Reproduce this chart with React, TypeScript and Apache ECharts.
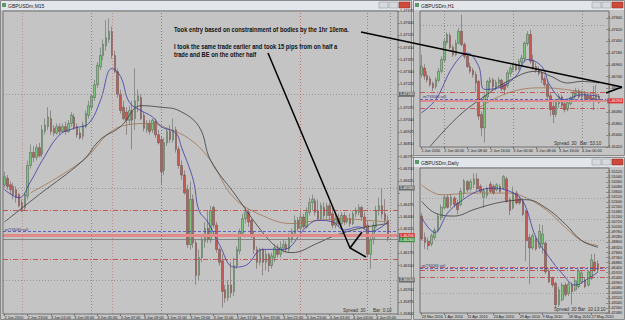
import React, { useEffect, useRef } from 'react';
import * as echarts from 'echarts';

// ---------- M15 (main window) ----------
const m15Open = [1.4660,1.4664,1.4660,1.4659,1.4657,1.4654,1.4649,1.4646,1.4653,1.4672,1.4680,1.4677,1.4683,1.4679,1.4693,1.4696,1.4701,1.4695,1.4692,1.4696,1.4693,1.4696,1.4693,1.4698,1.4702,1.4696,1.4692,1.4690,1.4696,1.4703,1.4708,1.4714,1.4722,1.4733,1.4740,1.4746,1.4750,1.4755,1.4740,1.4730,1.4716,1.4708,1.4705,1.4700,1.4706,1.4701,1.4712,1.4714,1.4703,1.4694,1.4698,1.4694,1.4699,1.4691,1.4688,1.4669,1.4686,1.4693,1.4688,1.4694,1.4682,1.4672,1.4666,1.4657,1.4623,1.4651,1.4624,1.4604,1.4615,1.4625,1.4633,1.4626,1.4646,1.4635,1.4620,1.4613,1.4595,1.4590,1.4598,1.4594,1.4610,1.4619,1.4630,1.4639,1.4643,1.4638,1.4628,1.4620,1.4612,1.4620,1.4612,1.4617,1.4610,1.4615,1.4620,1.4617,1.4621,1.4623,1.4620,1.4626,1.4630,1.4638,1.4633,1.4640,1.4634,1.4643,1.4649,1.4650,1.4644,1.4639,1.4646,1.4641,1.4647,1.4642,1.4635,1.4639,1.4636,1.4641,1.4637,1.4639,1.4636,1.4642,1.4643,1.4646,1.4640,1.4635,1.4617,1.4626,1.4634,1.4644,1.4647,1.4642,1.4638];
const m15Close = [1.4665,1.4659,1.4657,1.4654,1.4652,1.4647,1.4644,1.4654,1.4672,1.4680,1.4677,1.4683,1.4678,1.4694,1.4697,1.4702,1.4693,1.4692,1.4696,1.4693,1.4696,1.4693,1.4698,1.4703,1.4695,1.4691,1.4689,1.4697,1.4704,1.4709,1.4715,1.4722,1.4734,1.4740,1.4747,1.4751,1.4755,1.4740,1.4730,1.4716,1.4706,1.4701,1.4700,1.4706,1.4700,1.4712,1.4715,1.4701,1.4695,1.4698,1.4693,1.4700,1.4691,1.4686,1.4668,1.4686,1.4693,1.4688,1.4694,1.4682,1.4672,1.4666,1.4655,1.4623,1.4651,1.4624,1.4604,1.4615,1.4626,1.4633,1.4626,1.4644,1.4635,1.4620,1.4612,1.4594,1.4590,1.4598,1.4593,1.4610,1.4620,1.4631,1.4639,1.4643,1.4637,1.4628,1.4620,1.4612,1.4620,1.4612,1.4617,1.4610,1.4616,1.4621,1.4617,1.4621,1.4623,1.4620,1.4627,1.4631,1.4638,1.4633,1.4640,1.4634,1.4643,1.4649,1.4651,1.4643,1.4639,1.4647,1.4641,1.4647,1.4641,1.4635,1.4639,1.4636,1.4641,1.4637,1.4639,1.4636,1.4642,1.4644,1.4646,1.4640,1.4634,1.4617,1.4626,1.4635,1.4644,1.4647,1.4642,1.4638,1.4627];
const m15High = [1.4668,1.4666,1.4662,1.4661,1.4659,1.4655,1.4651,1.4655,1.4675,1.4685,1.4684,1.4685,1.4686,1.4697,1.4701,1.4708,1.4706,1.4697,1.4698,1.4698,1.4698,1.4699,1.4700,1.4705,1.4704,1.4698,1.4695,1.4699,1.4706,1.4712,1.4716,1.4725,1.4736,1.4745,1.4750,1.4762,1.4763,1.4758,1.4743,1.4732,1.4719,1.4712,1.4708,1.4709,1.4712,1.4732,1.4719,1.4716,1.4705,1.4700,1.4700,1.4701,1.4701,1.4694,1.4690,1.4689,1.4695,1.4697,1.4701,1.4696,1.4684,1.4675,1.4669,1.4660,1.4662,1.4654,1.4626,1.4620,1.4629,1.4637,1.4644,1.4647,1.4647,1.4637,1.4621,1.4617,1.4598,1.4601,1.4612,1.4615,1.4622,1.4633,1.4642,1.4646,1.4645,1.4639,1.4631,1.4622,1.4621,1.4621,1.4620,1.4618,1.4618,1.4623,1.4623,1.4625,1.4626,1.4625,1.4630,1.4633,1.4641,1.4640,1.4643,1.4642,1.4646,1.4652,1.4654,1.4652,1.4651,1.4649,1.4649,1.4649,1.4649,1.4646,1.4643,1.4642,1.4643,1.4643,1.4641,1.4642,1.4644,1.4646,1.4648,1.4647,1.4643,1.4638,1.4628,1.4637,1.4647,1.4652,1.4658,1.4651,1.4641];
const m15Low = [1.4658,1.4657,1.4654,1.4651,1.4649,1.4646,1.4643,1.4644,1.4651,1.4670,1.4674,1.4675,1.4677,1.4677,1.4691,1.4694,1.4691,1.4690,1.4691,1.4691,1.4692,1.4691,1.4692,1.4696,1.4694,1.4689,1.4688,1.4688,1.4695,1.4701,1.4706,1.4712,1.4720,1.4731,1.4737,1.4743,1.4748,1.4738,1.4729,1.4714,1.4704,1.4700,1.4691,1.4697,1.4682,1.4694,1.4705,1.4700,1.4693,1.4692,1.4691,1.4692,1.4689,1.4685,1.4660,1.4666,1.4684,1.4686,1.4686,1.4680,1.4670,1.4663,1.4654,1.4621,1.4620,1.4621,1.4598,1.4601,1.4612,1.4621,1.4624,1.4624,1.4633,1.4618,1.4610,1.4584,1.4587,1.4588,1.4590,1.4591,1.4608,1.4617,1.4628,1.4636,1.4634,1.4627,1.4617,1.4608,1.4610,1.4604,1.4607,1.4606,1.4608,1.4612,1.4615,1.4615,1.4618,1.4618,1.4618,1.4624,1.4628,1.4631,1.4631,1.4633,1.4633,1.4641,1.4644,1.4641,1.4638,1.4638,1.4639,1.4639,1.4638,1.4633,1.4633,1.4634,1.4634,1.4635,1.4636,1.4634,1.4635,1.4640,1.4641,1.4638,1.4633,1.4615,1.4608,1.4623,1.4633,1.4641,1.4639,1.4636,1.4625];
const m15Ticks = ['2 Jun 2010','2 Jun 23:00','3 Jun 01:00','3 Jun 03:00','3 Jun 05:00','3 Jun 07:00','3 Jun 09:00','3 Jun 11:00','3 Jun 13:00','3 Jun 15:00','3 Jun 17:00','3 Jun 19:00','3 Jun 21:00','3 Jun 23:00','4 Jun 01:00','4 Jun 03:00','4 Jun 05:00'];
const m15MaFast = [[0,1.4657],[5,1.4652],[9,1.4662],[13,1.4675],[19,1.4691],[24,1.4695],[29,1.4698],[33,1.4712],[37,1.4732],[40,1.4727],[43,1.4711],[47,1.4706],[51,1.4702],[54,1.4696],[59,1.4692],[61,1.4683],[65,1.4663],[67,1.4644],[70,1.4637],[74,1.4623],[79,1.4609],[83,1.4610],[89,1.4620],[96,1.4620],[104,1.4634],[108,1.4638],[113,1.4637],[117,1.4632],[122,1.4634],[126,1.4631],[132,1.4637]];
const m15MaSlow = [[0,1.4637],[12,1.4654],[27,1.4675],[33,1.4688],[40,1.4696],[47,1.4709],[54,1.4708],[60,1.4706],[67,1.4696],[71,1.4675],[79,1.4655],[90,1.4628],[95,1.4620],[99,1.4618],[108,1.4624],[113,1.4628],[120,1.4632],[125,1.4634],[132,1.4636]];
const m15MaMid = [[9,1.4655],[27,1.4675],[36,1.4692],[42,1.4697],[50,1.4698],[56,1.4695],[64,1.4688],[71,1.4675],[79,1.4652],[90,1.4640],[99,1.4636],[108,1.4638],[116,1.4639],[125,1.4638],[132,1.4637]];

// ---------- H1 ----------
const h1Open = [1.4678,1.4690,1.4676,1.4670,1.4661,1.4655,1.4667,1.4684,1.4705,1.4738,1.4751,1.4729,1.4715,1.4737,1.4759,1.4734,1.4712,1.4693,1.4686,1.4678,1.4665,1.4603,1.4578,1.4636,1.4663,1.4668,1.4655,1.4662,1.4667,1.4659,1.4657,1.4680,1.4687,1.4695,1.4688,1.4701,1.4707,1.4736,1.4753,1.4705,1.4693,1.4687,1.4681,1.4670,1.4659,1.4638,1.4618,1.4603,1.4623,1.4636,1.4623,1.4613,1.4623,1.4632,1.4640,1.4647,1.4636,1.4642,1.4638,1.4637,1.4634,1.4631,1.4637];
const h1Close = [1.4693,1.4675,1.4668,1.4659,1.4653,1.4668,1.4684,1.4706,1.4740,1.4753,1.4728,1.4715,1.4737,1.4759,1.4734,1.4712,1.4693,1.4684,1.4678,1.4662,1.4600,1.4578,1.4637,1.4665,1.4668,1.4655,1.4663,1.4668,1.4651,1.4650,1.4681,1.4690,1.4695,1.4687,1.4703,1.4709,1.4737,1.4753,1.4703,1.4690,1.4686,1.4680,1.4668,1.4659,1.4637,1.4612,1.4603,1.4628,1.4637,1.4620,1.4612,1.4625,1.4634,1.4643,1.4648,1.4636,1.4643,1.4632,1.4632,1.4631,1.4630,1.4638,1.4626];
const h1High = [1.4715,1.4697,1.4684,1.4675,1.4665,1.4673,1.4690,1.4712,1.4745,1.4757,1.4756,1.4734,1.4743,1.4765,1.4790,1.4738,1.4715,1.4700,1.4690,1.4684,1.4668,1.4609,1.4643,1.4668,1.4673,1.4672,1.4668,1.4673,1.4670,1.4663,1.4686,1.4695,1.4700,1.4700,1.4707,1.4715,1.4740,1.4759,1.4762,1.4715,1.4700,1.4693,1.4686,1.4676,1.4665,1.4643,1.4631,1.4632,1.4642,1.4640,1.4628,1.4631,1.4637,1.4648,1.4653,1.4651,1.4648,1.4647,1.4643,1.4642,1.4657,1.4659,1.4640];
const h1Low = [1.4672,1.4668,1.4663,1.4655,1.4647,1.4651,1.4663,1.4680,1.4701,1.4734,1.4725,1.4711,1.4712,1.4734,1.4731,1.4707,1.4690,1.4680,1.4672,1.4645,1.4593,1.4562,1.4550,1.4631,1.4647,1.4650,1.4648,1.4655,1.4647,1.4640,1.4653,1.4673,1.4682,1.4684,1.4686,1.4695,1.4701,1.4731,1.4698,1.4686,1.4681,1.4676,1.4662,1.4655,1.4631,1.4600,1.4587,1.4598,1.4615,1.4615,1.4607,1.4609,1.4620,1.4628,1.4636,1.4632,1.4631,1.4628,1.4630,1.4627,1.4611,1.4628,1.4623];
const h1Ticks = ['1 Jun 2010','2 Jun 00:00','2 Jun 08:00','2 Jun 16:00','3 Jun 00:00','3 Jun 08:00','3 Jun 16:00','4 Jun 00:00'];
const h1MaFast = [[0,1.4606],[5,1.4631],[11,1.4693],[16,1.4718],[20,1.4693],[22,1.4650],[27,1.4653],[33,1.4675],[37,1.4706],[42,1.4693],[45,1.4656],[50,1.4631],[56,1.4640],[62,1.4637]];
const h1MaSlow = [[3,1.4543],[13,1.4600],[22,1.4637],[30,1.4665],[40,1.4684],[45,1.4675],[51,1.4662],[56,1.4665],[62,1.4662]];
const h1MaMid = [[19,1.4612],[30,1.4643],[42,1.4653],[50,1.4650],[62,1.4640]];

// ---------- Daily ----------
const d1Open = [1.5132,1.4928,1.4891,1.4866,1.4928,1.4991,1.5116,1.5210,1.5310,1.5241,1.5304,1.5257,1.5241,1.5351,1.5460,1.5392,1.5435,1.5486,1.5414,1.5310,1.5329,1.5435,1.5414,1.5382,1.5414,1.5398,1.5486,1.5288,1.5210,1.5351,1.5298,1.5273,1.5179,1.4928,1.4828,1.4913,1.4835,1.4866,1.4872,1.4609,1.4537,1.4490,1.4287,1.4334,1.4475,1.4396,1.4475,1.4428,1.4459,1.4506,1.4521,1.4475,1.4537,1.4694,1.4678];
const d1Close = [1.4913,1.4881,1.4850,1.4944,1.4997,1.5132,1.5216,1.5310,1.5216,1.5310,1.5241,1.5194,1.5367,1.5467,1.5382,1.5460,1.5486,1.5392,1.5367,1.5373,1.5398,1.5367,1.5351,1.5429,1.5367,1.5507,1.5273,1.5185,1.5360,1.5257,1.5257,1.5148,1.4897,1.4828,1.4944,1.4819,1.4985,1.4960,1.4600,1.4506,1.4475,1.4287,1.4428,1.4475,1.4381,1.4484,1.4412,1.4515,1.4609,1.4590,1.4459,1.4600,1.4716,1.4615,1.4622];
const d1High = [1.5163,1.4975,1.4928,1.4966,1.5022,1.5154,1.5241,1.5335,1.5335,1.5342,1.5320,1.5288,1.5398,1.5486,1.5476,1.5486,1.5539,1.5539,1.5435,1.5398,1.5414,1.5460,1.5435,1.5445,1.5435,1.5523,1.5507,1.5310,1.5414,1.5373,1.5320,1.5288,1.5194,1.4960,1.4966,1.4935,1.5054,1.5047,1.4891,1.4631,1.4553,1.4506,1.4459,1.4496,1.4496,1.4506,1.4496,1.4537,1.4631,1.4615,1.4547,1.4615,1.4772,1.4772,1.4709];
const d1Low = [1.4897,1.4819,1.4809,1.4841,1.4903,1.4975,1.5091,1.5194,1.5204,1.5210,1.5216,1.5148,1.5226,1.5304,1.5360,1.5367,1.5398,1.5373,1.5351,1.5210,1.5304,1.5351,1.5335,1.5367,1.5351,1.5382,1.5257,1.5141,1.5194,1.5241,1.5241,1.5132,1.4703,1.4484,1.4809,1.4803,1.4819,1.4772,1.4578,1.4490,1.4453,1.4255,1.4265,1.4318,1.4365,1.4371,1.4287,1.4412,1.4443,1.4484,1.4443,1.4459,1.4521,1.4600,1.4600];
const d1Ticks = ['23 Mar 2010','1 Apr 2010','11 Apr 2010','20 Apr 2010','29 Apr 2010','9 May 2010','18 May 2010','27 May 2010'];
const d1TickIdx = [0,7,14,22,30,37,45,52];
const d1MaFast = [[0,1.5116],[4,1.4975],[8,1.5163],[12,1.5273],[17,1.5367],[22,1.5398],[27,1.5367],[31,1.5273],[35,1.4928],[39,1.4741],[43,1.4584],[47,1.4475],[51,1.4537],[54,1.4600]];
const d1MaSlow = [[0,1.5273],[4,1.5163],[10,1.5132],[16,1.5194],[21,1.5241],[26,1.5273],[32,1.5288],[38,1.5210],[44,1.5054],[49,1.4897],[54,1.4835]];
const d1MaMid = [[0,1.5429],[6,1.5335],[16,1.5351],[26,1.5351],[31,1.5320],[38,1.5194],[44,1.5022],[49,1.4897],[54,1.4850]];

// shared levels (horizontal trade lines)
const levelUpper = 1.4644;
const levelEntry = 1.4631;
const levelBand = 1.46285;
const levelBid = 1.4626;
const levelLower = 1.4614;
const m15GridLevels = [1.4716, 1.4658, 1.4601];
const h1GridLevels = [1.4770];
const d1GridLevels = [1.5300, 1.5100, 1.4900, 1.4400];

const FONT = 'Liberation Sans, Arial, sans-serif';
const BG = '#c4c4c4';
const BULL = '#7cc67c';
const BEAR = '#c65a52';

const slots = (n: number) => Array.from({ length: n }, (_, i) => String(i));
const ohlc = (o: number[], c: number[], l: number[], h: number[]) => o.map((v, i) => [v, c[i], l[i], h[i]]);

const DASHDOT = [5, 2, 1, 2];
const hl = (y: number, color: string, type: any, width: number, label?: any) => ({
  yAxis: y,
  lineStyle: { color, type, width },
  label: label
    ? { show: true, position: 'end', distance: 1, fontSize: 3.8, fontFamily: FONT, padding: [0.5, 1], formatter: y.toFixed(5), ...label }
    : { show: false },
});
const vl = (x: number, color: string) => ({ xAxis: x, lineStyle: { color, type: [1, 2], width: 0.8 }, label: { show: false } });

function xAxisCfg(grid: number, n: number, show: (i: number) => boolean, name: (i: number) => string) {
  return {
    type: 'category', gridIndex: grid, data: slots(n), boundaryGap: true,
    axisLine: { show: false },
    axisTick: { show: true, alignWithLabel: true, interval: (i: number) => show(i), length: 2, lineStyle: { color: '#444', width: 0.6 } },
    axisLabel: { interval: (i: number) => show(i), formatter: (_v: string, i: number) => name(i), fontSize: 3.8, color: '#222', fontFamily: FONT, align: 'left', margin: 1.5 },
    splitLine: { show: false },
  };
}
// price labels hidden where a boxed level label covers them (as in the terminal)
function yAxisCfg(grid: number, min: number, max: number, interval: number, boxed: number[], gap: number) {
  return {
    type: 'value', gridIndex: grid, position: 'right', min, max, interval,
    axisLine: { show: false },
    axisTick: { show: true, length: 1.5, lineStyle: { color: '#444', width: 0.6 } },
    axisLabel: {
      fontSize: 3.8, color: '#222', fontFamily: FONT, margin: 2, showMaxLabel: false,
      formatter: (v: number) => (boxed.some((b) => Math.abs(b - v) < gap) ? '' : v.toFixed(5)),
    },
    splitLine: { show: false },
  };
}
function candle(i: number, data: number[][], bw: number) {
  return {
    type: 'candlestick', xAxisIndex: i, yAxisIndex: i, data, barWidth: bw, z: 3,
    itemStyle: { color: BULL, color0: BEAR, borderColor: '#4e5a4e', borderColor0: '#5e4a48', borderWidth: 0.5 },
  };
}
function ma(i: number, data: number[][], color: string) {
  return { type: 'line', xAxisIndex: i, yAxisIndex: i, data, smooth: 0.4, showSymbol: false, z: 4, lineStyle: { color, width: 0.8 } };
}
function marks(i: number, data: any[]) {
  return { type: 'line', xAxisIndex: i, yAxisIndex: i, data: [], z: 1, markLine: { silent: true, symbol: 'none', precision: 6, animation: false, data } };
}

const BLUE = '#3a3aa8';
const BROWN = '#a37452';
const DARK = '#3c3c3c';
const RED_L = '#c43c3c';
const GRAYBOX = { backgroundColor: '#6e6e6e', color: '#eeeeee' };

function win(x: number, y: number, w: number, h: number, title: string, px: number, py: number, pw: number, ph: number) {
  const bx = x + w - 33;
  return [
    { type: 'rect', z: -5, shape: { x: x + 0.5, y: y + 0.5, width: w - 1, height: h - 1 }, style: { fill: BG, stroke: '#8a8a8a', lineWidth: 1 } },
    { type: 'rect', z: -4, shape: { x: x + 1, y: y + 1, width: w - 2, height: 9 }, style: { fill: '#e2e5e9' } },
    { type: 'rect', z: -4, shape: { x: x + 2, y: y + 3, width: 4, height: 4 }, style: { fill: '#5a9a6a' } },
    { type: 'text', z: 60, x: x + 8, y: y + 5.5, style: { text: title, fontSize: 5, fontFamily: FONT, fill: '#222', verticalAlign: 'middle' } },
    { type: 'rect', z: 60, shape: { x: bx, y: y + 2, width: 9, height: 6 }, style: { fill: '#d6dade', stroke: '#8f959b', lineWidth: 0.5 } },
    { type: 'rect', z: 60, shape: { x: bx + 10, y: y + 2, width: 9, height: 6 }, style: { fill: '#d6dade', stroke: '#8f959b', lineWidth: 0.5 } },
    { type: 'rect', z: 60, shape: { x: bx + 20, y: y + 2, width: 11, height: 6 }, style: { fill: '#cf4a3a', stroke: '#8a2a20', lineWidth: 0.5 } },
    { type: 'rect', z: 50, shape: { x: px, y: py, width: pw, height: ph }, style: { fill: 'none', stroke: '#5e5e5e', lineWidth: 0.8 } },
  ];
}
const tx = (text: string, x: number, y: number, size: number, extra: any = {}) => ({
  type: 'text', z: 60, x, y, style: { text, fontSize: size, fontFamily: FONT, fill: '#333', verticalAlign: 'middle', ...extra },
});

export default function App() {
  const ref = useRef<HTMLDivElement>(null);
  useEffect(() => {
    document.body.style.margin = '0';
    const chart = echarts.init(ref.current!, null, { renderer: 'svg' });
    const noteStyle = { fontWeight: 'bold', fill: '#111', fontFamily: FONT };
    chart.setOption({
      animation: false,
      backgroundColor: '#d9d9d9',
      grid: [
        { left: 3, top: 11, width: 395, height: 303 },
        { left: 420, top: 11, width: 189, height: 136 },
        { left: 420, top: 168, width: 189, height: 145 },
      ],
      xAxis: [
        xAxisCfg(0, 136, (i) => i % 8 === 0 && i / 8 < m15Ticks.length, (i) => m15Ticks[i / 8] ?? ''),
        xAxisCfg(1, 65, (i) => i % 8 === 0 && i / 8 < h1Ticks.length, (i) => h1Ticks[i / 8] ?? ''),
        xAxisCfg(2, 57, (i) => d1TickIdx.includes(i), (i) => d1Ticks[d1TickIdx.indexOf(i)] ?? ''),
      ],
      yAxis: [
        yAxisCfg(0, 1.4580, 1.47676, 0.00075, [...m15GridLevels, levelBand, levelBid], 0.0003),
        yAxisCfg(1, 1.4542, 1.4797, 0.0022, [levelBand], 0.0008),
        yAxisCfg(2, 1.4208, 1.5590, 0.0048, [], 0),
      ],
      series: [
        marks(0, [
          ...m15GridLevels.map((v) => hl(v, '#8a8a8a', [1, 2], 0.8, GRAYBOX)),
          hl(levelUpper, RED_L, DASHDOT, 0.8),
          hl(levelEntry, '#4848c0', [3, 2], 0.8),
          hl(levelBand, '#e08a8a', 'solid', 3, { backgroundColor: '#e03030', color: '#fff', formatter: '1.46294' }),
          hl(levelBid, '#767676', 'solid', 0.8, { backgroundColor: '#3f8f3f', color: '#fff', formatter: '1.46264' }),
          hl(levelLower, RED_L, DASHDOT, 0.8),
          vl(6, '#c08080'), vl(30, '#7a7a7a'), vl(37, '#c08080'), vl(54, '#6060b0'), vl(102, '#c06060'), vl(125, '#7a7a7a'), vl(133, '#7a7a7a'),
        ]),
        candle(0, ohlc(m15Open, m15Close, m15Low, m15High), 2),
        ma(0, m15MaMid, BROWN),
        ma(0, m15MaSlow, DARK),
        ma(0, m15MaFast, BLUE),

        marks(1, [
          ...h1GridLevels.map((v) => hl(v, '#8a8a8a', [1, 2], 0.8)),
          hl(levelUpper, RED_L, DASHDOT, 0.8),
          hl(levelEntry, '#4848c0', [3, 2], 0.8),
          hl(levelBand, '#e08a8a', 'solid', 2, { backgroundColor: '#e03030', color: '#fff', formatter: '1.46294' }),
          hl(levelLower, RED_L, DASHDOT, 0.8),
          vl(8, '#7a7a7a'), vl(32, '#7a7a7a'), vl(56, '#7a7a7a'),
        ]),
        candle(1, ohlc(h1Open, h1Close, h1Low, h1High), 2),
        ma(1, h1MaMid, BROWN),
        ma(1, h1MaSlow, DARK),
        ma(1, h1MaFast, BLUE),

        marks(2, [
          hl(levelUpper, RED_L, DASHDOT, 0.8),
          hl(levelEntry, '#4848c0', [3, 2], 0.8),
          hl(levelLower, RED_L, DASHDOT, 0.8),
          hl(1.4547, RED_L, DASHDOT, 0.8),
          ...d1GridLevels.map((v) => hl(v, '#8a8a8a', [1, 2], 0.6)),
        ]),
        candle(2, ohlc(d1Open, d1Close, d1Low, d1High), 2.2),
        ma(2, d1MaMid, BROWN),
        ma(2, d1MaSlow, DARK),
        ma(2, d1MaFast, BLUE),
      ],
      graphic: [
        ...win(0, 0, 412, 320, 'GBPUSDm,M15', 3, 11, 395, 303),
        ...win(413, 0, 212, 156, 'GBPUSDm,H1', 420, 11, 189, 136),
        ...win(413, 157, 212, 163, 'GBPUSDm,Daily', 420, 168, 189, 145),
        tx('m/TS3084 sell', 5, 229.5, 3.6, { fill: '#3a3a7a' }),
        tx('m/TS3084 sell', 423, 96.5, 3.6, { fill: '#3a3a7a' }),
        tx('m/TS3084 sell', 422, 266, 3.6, { fill: '#3a3a7a' }),
        tx('Spread: 30', 343, 310.5, 4.6),
        tx('Bar: 0:10', 373, 310.5, 4.6),
        tx('Spread: 30', 554, 143.5, 4.6),
        tx('Bar: 53:10', 580, 143.5, 4.6),
        tx('Spread: 30', 554, 309.5, 4.6),
        tx('Bar: 10:13:10', 578, 309.5, 4.6),
        { type: 'text', z: 80, x: 174, y: 29.5, scaleX: 0.76, style: { text: 'Took entry based on constrainment of bodies by the 1hr 10ema.', fontSize: 7.6, verticalAlign: 'middle', ...noteStyle } },
        { type: 'text', z: 80, x: 174, y: 46.5, scaleX: 0.76, style: { text: 'I took the same trade earlier and took 15 pips from on half a', fontSize: 7.6, verticalAlign: 'middle', ...noteStyle } },
        { type: 'text', z: 80, x: 174, y: 54.5, scaleX: 0.76, style: { text: 'trade and BE on the other half', fontSize: 7.6, verticalAlign: 'middle', ...noteStyle } },
        { type: 'polyline', z: 80, shape: { points: [[361, 32], [622, 87]] }, style: { stroke: '#000', lineWidth: 1.5, fill: 'none' } },
        { type: 'polyline', z: 80, shape: { points: [[606, 93], [622, 87]] }, style: { stroke: '#000', lineWidth: 1.5, fill: 'none' } },
        { type: 'polyline', z: 80, shape: { points: [[268, 53], [350, 248], [366, 257]] }, style: { stroke: '#000', lineWidth: 1.5, fill: 'none' } },
        { type: 'polyline', z: 80, shape: { points: [[350, 248], [362, 232]] }, style: { stroke: '#000', lineWidth: 1.5, fill: 'none' } },
      ],
    });
    return () => chart.dispose();
  }, []);
  return <div ref={ref} style={{ width: 625, height: 320, position: 'absolute', left: 0, top: 0 }} />;
}
